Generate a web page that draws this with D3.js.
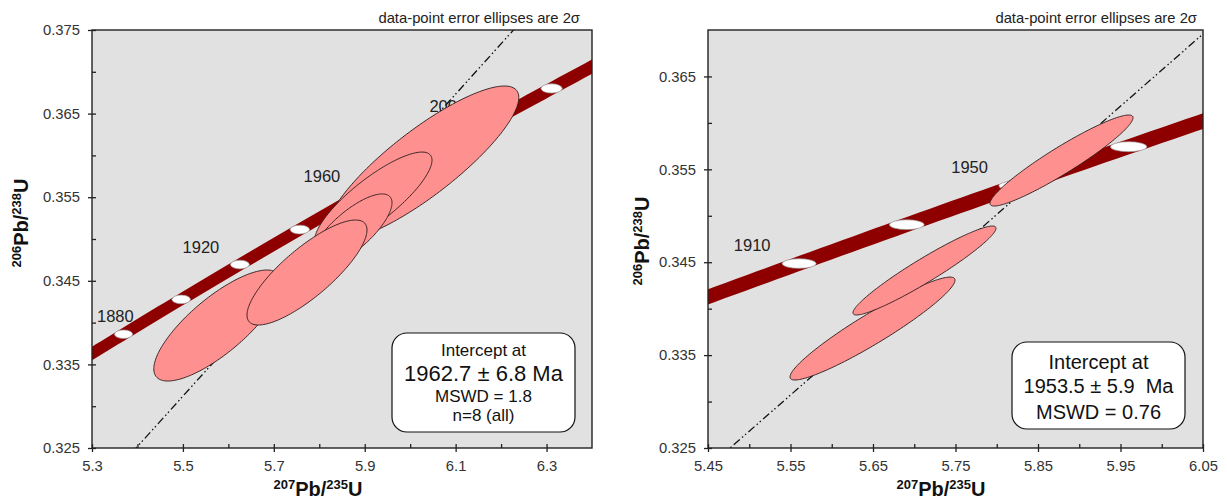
<!DOCTYPE html>
<html>
<head>
<meta charset="utf-8">
<script src="https://cdn.jsdelivr.net/npm/d3@7"></script>
<style>
  body { margin: 0; background: #fff; }
  svg { display: block; font-family: Arial, "Liberation Sans", sans-serif; }
</style>
</head>
<body>
<div id="chart"></div>
<script>
// decay constants (1/yr)
const lambda238 = 1.55125e-10;
const lambda235 = 9.8485e-10;

// ---- left panel data ----
const leftXDomain = [5.3, 6.4];
const leftYDomain = [0.325, 0.375];
const leftXTicks = [5.3, 5.5, 5.7, 5.9, 6.1, 6.3];
const leftXMinor = [5.4, 5.6, 5.8, 6.0, 6.2];
const leftYTicks = [0.325, 0.335, 0.345, 0.355, 0.365, 0.375];
const leftYMinor = [0.33, 0.34, 0.35, 0.36, 0.37];
const leftAgeMarks = [1880, 1900, 1920, 1940, 1960, 1980, 2000, 2020];
const leftAgeLabels = [1880, 1920, 1960, 2000];
// 207/235, 2s, 206/238, 2s, rho  (draw order)
const leftEllipses = [
  { x: 6.044, xe: 0.090, y: 0.35969, ye: 0.0035, rho: 0.90 },
  { x: 5.967, xe: 0.070, y: 0.35646, ye: 0.0030, rho: 0.90 },
  { x: 5.758, xe: 0.070, y: 0.34569, ye: 0.0035, rho: 0.85 },
  { x: 6.028, xe: 0.211, y: 0.35909, ye: 0.00921, rho: 0.85 },
  { x: 5.919, xe: 0.129, y: 0.35466, ye: 0.00574, rho: 0.83 },
  { x: 5.870, xe: 0.090, y: 0.35096, ye: 0.00443, rho: 0.76 },
  { x: 5.576, xe: 0.140, y: 0.33965, ye: 0.00664, rho: 0.78 },
  { x: 5.773, xe: 0.132, y: 0.34599, ye: 0.00628, rho: 0.81 }
];
// discordia: two points on the line (through origin)
const leftDiscordia = [[0, 0], [5.910, 0.35589]];
const leftBoxLines = ["Intercept at", "1962.7 \u00b1 6.8 Ma", "MSWD = 1.8", "n=8 (all)"];

// ---- right panel data ----
const rightXDomain = [5.45, 6.05];
const rightYDomain = [0.325, 0.370];
const rightXTicks = [5.45, 5.55, 5.65, 5.75, 5.85, 5.95, 6.05];
const rightXMinor = [5.5, 5.6, 5.7, 5.8, 5.9, 6.0];
const rightYTicks = [0.325, 0.335, 0.345, 0.355, 0.365];
const rightYMinor = [0.33, 0.34, 0.35, 0.36];
const rightAgeMarks = [1910, 1930, 1950, 1970];
const rightAgeLabels = [1910, 1950];
const rightEllipses = [
  { x: 5.6494, xe: 0.100, y: 0.33786, ye: 0.00554, rho: 0.94 },
  { x: 5.7124, xe: 0.0867, y: 0.34411, ye: 0.00479, rho: 0.95 },
  { x: 5.8785, xe: 0.0867, y: 0.35595, ye: 0.00490, rho: 0.94 }
];
const rightDiscordia = [[5.4767, 0.325], [6.05, 0.36957]];
const rightBoxLines = ["Intercept at", "1953.5 \u00b1 5.9  Ma", "MSWD = 0.76"];

const noteText = "data-point error ellipses are 2\u03c3";

function concordia(t) {
  return [Math.expm1(lambda235 * t * 1e6), Math.expm1(lambda238 * t * 1e6)];
}

const svg = d3.select("#chart").append("svg")
  .attr("width", 1227)
  .attr("height", 503);

function drawPanel(cfg) {
  const x = d3.scaleLinear().domain(cfg.xDomain).range([cfg.left, cfg.right]);
  const y = d3.scaleLinear().domain(cfg.yDomain).range([cfg.bottom, cfg.top]);
  const g = svg.append("g").attr("class", cfg.id);

  g.append("clipPath").attr("id", cfg.id + "-clip")
    .append("rect")
    .attr("x", cfg.left).attr("y", cfg.top)
    .attr("width", cfg.right - cfg.left).attr("height", cfg.bottom - cfg.top);

  g.append("rect")
    .attr("x", cfg.left).attr("y", cfg.top)
    .attr("width", cfg.right - cfg.left).attr("height", cfg.bottom - cfg.top)
    .attr("fill", "#e1e1e1");

  const inner = g.append("g").attr("clip-path", `url(#${cfg.id}-clip)`);

  // concordia band
  const ages = d3.range(1700, 2201, 2);
  const k = 0.0046;
  const upper = ages.map(t => { const c = concordia(t); return [x(c[0] * (1 - k)), y(c[1])]; });
  const lower = ages.map(t => { const c = concordia(t); return [x(c[0] * (1 + k)), y(c[1])]; }).reverse();
  inner.append("path")
    .attr("d", d3.line()(upper.concat(lower)) + "Z")
    .attr("fill", "#8e0000");

  // discordia line, extended over the whole panel
  const [p0, p1] = cfg.discordia;
  const slope = (p1[1] - p0[1]) / (p1[0] - p0[0]);
  const lineY = v => p0[1] + (v - p0[0]) * slope;
  inner.append("line")
    .attr("x1", x(cfg.xDomain[0] - 0.2)).attr("y1", y(lineY(cfg.xDomain[0] - 0.2)))
    .attr("x2", x(cfg.xDomain[1] + 0.2)).attr("y2", y(lineY(cfg.xDomain[1] + 0.2)))
    .attr("stroke", "#111")
    .attr("stroke-width", 1.3)
    .attr("stroke-dasharray", "8,3,1.5,2.5,1.5,3");

  // age markers
  inner.selectAll("ellipse.age-mark")
    .data(cfg.ageMarks)
    .join("ellipse")
    .attr("class", "age-mark")
    .attr("cx", d => x(concordia(d)[0]))
    .attr("cy", d => y(concordia(d)[1]))
    .attr("rx", d => { const c = concordia(d); return x(c[0] * 1.0037) - x(c[0]); })
    .attr("ry", d => { const c = concordia(d); return y(c[1]) - y(c[1] * 1.0015); })
    .attr("fill", "#fff")
    .attr("stroke", "#999")
    .attr("stroke-width", 0.7);

  // age labels
  cfg.ageLabels.forEach(a => {
    const c = concordia(a);
    const t = inner.append("text")
      .attr("x", x(c[0]) + cfg.labelDx)
      .attr("y", y(c[1]) + cfg.labelDy + 6)
      .attr("text-anchor", "middle")
      .attr("font-size", 16.5)
      .attr("fill", "#222")
      .text(a);
    const bb = t.node().getBBox();
    if (bb.x < cfg.left + 5) t.attr("x", +t.attr("x") + (cfg.left + 5 - bb.x));
  });

  // data-point error ellipses
  const angles = d3.range(0, 2 * Math.PI, Math.PI / 90);
  const ellipsePath = e => d3.line()(angles.map(a => [
    x(e.x + e.xe * Math.cos(a)),
    y(e.y + e.ye * (e.rho * Math.cos(a) + Math.sqrt(1 - e.rho * e.rho) * Math.sin(a)))
  ])) + "Z";
  inner.selectAll("path.err-ellipse")
    .data(cfg.ellipses)
    .join("path")
    .attr("class", "err-ellipse")
    .attr("d", ellipsePath)
    .attr("fill", "#ff9090")
    .attr("stroke", "#2a1a1a")
    .attr("stroke-width", 0.9);

  // frame
  g.append("rect")
    .attr("x", cfg.left).attr("y", cfg.top)
    .attr("width", cfg.right - cfg.left).attr("height", cfg.bottom - cfg.top)
    .attr("fill", "none")
    .attr("stroke", "#222")
    .attr("stroke-width", 1.4);

  // axes
  const xAxis = g.append("g")
    .attr("transform", `translate(0,${cfg.bottom})`)
    .call(d3.axisBottom(x).tickValues(cfg.xTicks).tickSize(4).tickPadding(8).tickFormat(d3.format(cfg.xFmt)));
  const xMinor = g.append("g")
    .attr("transform", `translate(0,${cfg.bottom})`)
    .call(d3.axisBottom(x).tickValues(cfg.xMinor).tickSize(-4).tickFormat(""));
  const yAxis = g.append("g")
    .attr("transform", `translate(${cfg.left},0)`)
    .call(d3.axisLeft(y).tickValues(cfg.yTicks).tickSize(4).tickPadding(8).tickFormat(d3.format(".3f")));
  const yMinor = g.append("g")
    .attr("transform", `translate(${cfg.left},0)`)
    .call(d3.axisLeft(y).tickValues(cfg.yMinor).tickSize(-4).tickFormat(""));

  xAxis.selectAll(".tick line").attr("y1", -4);
  yAxis.selectAll(".tick line").attr("x1", 4);
  [xAxis, xMinor, yAxis, yMinor].forEach(ax => {
    ax.select(".domain").remove();
    ax.attr("font-family", null).attr("font-size", 14.8);
    ax.selectAll(".tick line").attr("stroke", "#222").attr("stroke-width", 1.3);
    ax.selectAll(".tick text").attr("fill", "#333");
  });

  // note above plot
  g.append("text")
    .attr("x", cfg.noteX)
    .attr("y", 23)
    .attr("text-anchor", "end")
    .attr("font-size", 14.8)
    .attr("fill", "#222")
    .text(noteText);

  // intercept box
  const [bx0, by0, bx1, by1] = cfg.box;
  g.append("rect")
    .attr("x", bx0).attr("y", by0)
    .attr("width", bx1 - bx0).attr("height", by1 - by0)
    .attr("rx", 15).attr("ry", 15)
    .attr("fill", "#fff")
    .attr("stroke", "#111")
    .attr("stroke-width", 1.2);
  cfg.boxLines.forEach((s, i) => {
    g.append("text")
      .attr("x", (bx0 + bx1) / 2)
      .attr("y", by0 + cfg.boxBaselines[i])
      .attr("text-anchor", "middle")
      .attr("font-size", cfg.boxSizes[i])
      .attr("fill", "#111")
      .style("white-space", "pre")
      .text(s);
  });

  // axis titles
  const yt = g.append("text")
    .attr("transform", `translate(${cfg.yTitle[0]},${cfg.yTitle[1]}) rotate(-90)`)
    .attr("text-anchor", "middle")
    .attr("font-weight", "bold")
    .attr("fill", "#111");
  yt.append("tspan").attr("font-size", 13).attr("dy", -7).text("206");
  yt.append("tspan").attr("font-size", 20).attr("dy", 7).text("Pb/");
  yt.append("tspan").attr("font-size", 13).attr("dy", -7).text("238");
  yt.append("tspan").attr("font-size", 20).attr("dy", 7).text("U");

  const xt = g.append("text")
    .attr("x", cfg.xTitle[0]).attr("y", cfg.xTitle[1])
    .attr("text-anchor", "middle")
    .attr("font-weight", "bold")
    .attr("fill", "#111");
  xt.append("tspan").attr("font-size", 13).attr("dy", -7).text("207");
  xt.append("tspan").attr("font-size", 20).attr("dy", 7).text("Pb/");
  xt.append("tspan").attr("font-size", 13).attr("dy", -7).text("235");
  xt.append("tspan").attr("font-size", 20).attr("dy", 7).text("U");
}

drawPanel({
  id: "left",
  left: 92, right: 592, top: 30, bottom: 448,
  xDomain: leftXDomain, yDomain: leftYDomain,
  xTicks: leftXTicks, xMinor: leftXMinor, yTicks: leftYTicks, yMinor: leftYMinor,
  xFmt: ".1f",
  ageMarks: leftAgeMarks, ageLabels: leftAgeLabels,
  labelDx: -39, labelDy: -18,
  ellipses: leftEllipses,
  discordia: leftDiscordia,
  noteX: 580,
  box: [392, 333, 575, 432],
  boxLines: leftBoxLines,
  boxBaselines: [23, 48, 69, 88],
  boxSizes: [17, 22, 17, 17],
  yTitle: [28, 223],
  xTitle: [318, 496]
});

drawPanel({
  id: "right",
  left: 708, right: 1203, top: 30, bottom: 448,
  xDomain: rightXDomain, yDomain: rightYDomain,
  xTicks: rightXTicks, xMinor: rightXMinor, yTicks: rightYTicks, yMinor: rightYMinor,
  xFmt: ".2f",
  ageMarks: rightAgeMarks, ageLabels: rightAgeLabels,
  labelDx: -47, labelDy: -19,
  ellipses: rightEllipses,
  discordia: rightDiscordia,
  noteX: 1197,
  box: [1012, 342, 1185, 429],
  boxLines: rightBoxLines,
  boxBaselines: [27, 51, 77],
  boxSizes: [20, 20, 20],
  yTitle: [649, 241],
  xTitle: [941, 496]
});
</script>
</body>
</html>
